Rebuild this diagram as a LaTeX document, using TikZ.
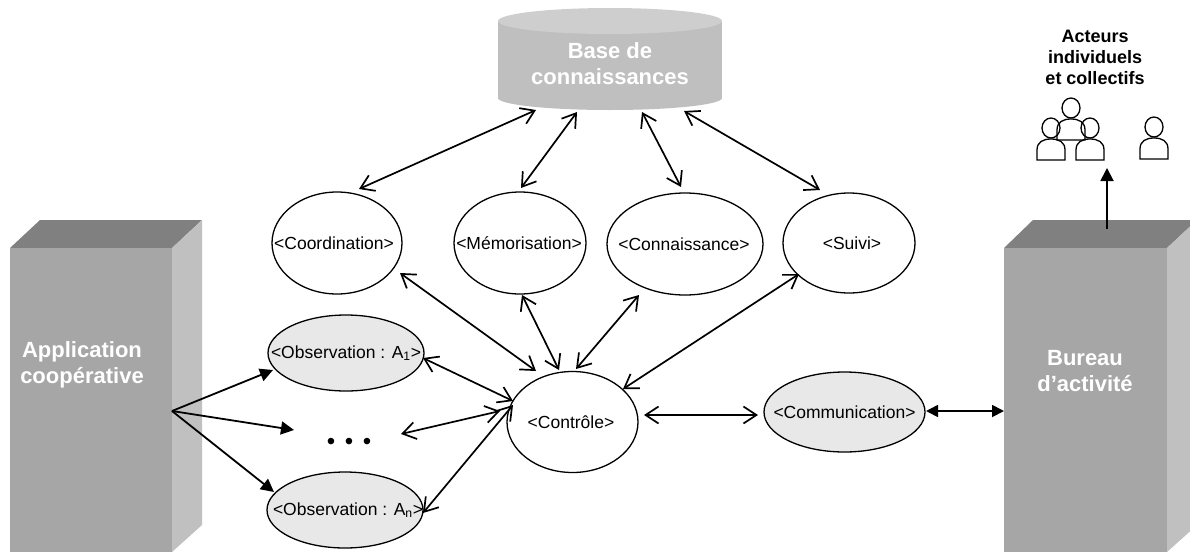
\documentclass[tikz,border=0pt]{standalone}
\usepackage{fontspec}
\setmainfont{Liberation Sans}
\usetikzlibrary{arrows.meta,calc,shapes.geometric}
\newcommand{\ztext}[2][0pt]{\makebox[0pt]{\hspace*{#1}#2}}
\tikzset{
  x=1pt,y=-1pt,
  uml/.style={draw=black,line width=1.3pt,ellipse,inner sep=0pt,fill=white,text=black,font=\fontsize{17.5}{21}\selectfont},
  obs/.style={uml,fill=ellgray},
  front/.style={fill=frontgray,inner sep=0pt,minimum width=#1,minimum height=304pt},
  title/.style={font=\bfseries\fontsize{22}{26}\selectfont,text=white,align=center,inner sep=0pt},
  small title/.style={font=\bfseries\fontsize{18}{21}\selectfont,text=black,align=center,inner sep=0pt},
  dbl/.style={line width=1.7pt,{Straight Barb[length=13pt,width=17pt,line width=1.7pt]}-{Straight Barb[length=13pt,width=17pt,line width=1.7pt]}},
  solid arrow/.style={line width=1.8pt,-{Triangle[length=13pt,width=13pt]}},
  dblsolid/.style={line width=1.8pt,{Triangle[length=12pt,width=12pt]}-{Triangle[length=12pt,width=12pt]}},
  person/.pic={
    \draw[line width=1.3pt] (0,0) ellipse[x radius=9,y radius=10];
    \draw[line width=1.3pt] (-14,32) -- (-14,22) .. controls (-14,14) and (-8,11) .. (0,11)
      .. controls (8,11) and (14,14) .. (14,22) -- (14,32) -- cycle;
  }
}
\definecolor{frontgray}{HTML}{A6A6A6}
\definecolor{topgray}{HTML}{808080}
\definecolor{sidegray}{HTML}{C0C0C0}
\definecolor{cylbody}{HTML}{BFBFBF}
\definecolor{cyltop}{HTML}{CECECE}
\definecolor{ellgray}{HTML}{E8E8E8}
\begin{document}
\begin{tikzpicture}
\useasboundingbox (0,0) rectangle (1190,552);
\clip (0,0) rectangle (1190,552);
% knowledge base cylinder
\fill[cylbody] (498,21) rectangle (722,98);
\fill[cylbody] (610,98) ellipse[x radius=112,y radius=12];
\fill[cyltop] (610,21) ellipse[x radius=112,y radius=13];
\node[title] (kb) at (610,64) {Base de\\connaissances};
% left block
\fill[topgray] (10,248) -- (40,220) -- (202,220) -- (172,248) -- cycle;
\fill[sidegray] (172,248) -- (202,220) -- (202,525) -- (172,552) -- cycle;
\node[front=162pt] (ap) at (91,400) {};
\node[title] (aplabel) at (82,365) {Application\\coopérative};
% right block
\fill[topgray] (1004,248) -- (1033,220) -- (1197,220) -- (1167,248) -- cycle;
\fill[sidegray] (1167,248) -- (1197,220) -- (1197,525) -- (1167,552) -- cycle;
\node[front=163pt] (bu) at (1085.5,400) {};
\node[title] (bulabel) at (1085,371) {Bureau\\d’activité};
% ellipses
\node[uml,minimum width=130pt,minimum height=102pt] (co) at (337,243) {\ztext[-6pt]{<Coordination>}};
\node[uml,minimum width=132pt,minimum height=102pt] (me) at (520,243) {\ztext[-2pt]{<Mémorisation>}};
\node[uml,minimum width=156pt,minimum height=102pt] (cn) at (685,244) {\ztext[-2pt]{<Connaissance>}};
\node[uml,minimum width=132pt,minimum height=100pt] (su) at (849,243) {\ztext[6pt]{<Suivi>}};
\node[uml,minimum width=131pt,minimum height=101pt] (ct) at (572.5,422) {\ztext[-3pt]{<Contrôle>}};
\node[obs,minimum width=161pt,minimum height=80pt] (cm) at (844.5,412) {\ztext{<Communication>}};
\node[obs,minimum width=156pt,minimum height=76pt] (a1) at (346,353) {\ztext{<Observation : A\textsubscript{1}>}};
\node[obs,minimum width=156pt,minimum height=76pt] (an) at (345,510) {\ztext[6pt]{<Observation : A\textsubscript{n}>}};
\node[inner sep=0pt,font=\fontsize{24}{28}\selectfont] (dots) at (349,441) {\raisebox{-8.6pt}[0pt][0pt]{•\hspace{9.6pt}•\hspace{9.6pt}•}};
% actors
\node[small title] (ac) at (1095,57) {Acteurs\\individuels\\et collectifs};
\pic at (1071,108) {person};
\pic at (1051,128) {person};
\pic at (1090,128) {person};
\pic at (1154,127) {person};
\coordinate (actarget) at (1107,168);
% knowledge base links
\draw[dbl] ($(kb)+(-74,46)$) -- ($(co)+(22,-54)$);
\draw[dbl] ($(kb)+(-33,48)$) -- ($(me)+(1,-55)$);
\draw[dbl] ($(kb)+(32,48)$) -- ($(cn)+(-4,-57)$);
\draw[dbl] ($(kb)+(74,47)$) -- ($(su)+(-29,-53)$);
% control links
\draw[dbl] ($(co)+(63,30)$) -- ($(ct)+(-36.5,-51)$);
\draw[dbl] ($(me)+(2,52)$) -- ($(ct)+(-13.5,-52)$);
\draw[dbl] ($(cn)+(-46,51)$) -- ($(ct)+(3.5,-53)$);
\draw[dbl] ($(su)+(-50,31)$) -- ($(ct)+(50.5,-33)$);
\draw[dbl] ($(a1)+(77,5)$) -- ($(ct)+(-59.5,-21)$);
\draw[dbl] ($(dots)+(52,-7)$) -- ($(ct)+(-72.5,-11)$);
\draw[dbl] ($(an)+(78,3)$) -- ($(ct)+(-59.5,-17)$);
\draw[dbl] ($(ct)+(71.5,-7)$) -- ($(cm)+(-86.5,3)$);
\draw[dblsolid] ($(cm)+(81.5,-1)$) -- ($(bu)+(-81.5,11)$);
\draw[solid arrow] ($(bu)+(21.5,-171)$) -- (actarget);
% application links
\draw[solid arrow] ($(ap)+(81,11)$) -- ($(a1)+(-73,17)$);
\draw[solid arrow] ($(ap)+(81,11)$) -- ($(dots)+(-55,-11)$);
\draw[solid arrow] ($(ap)+(81,11)$) -- ($(an)+(-71,-18)$);
\end{tikzpicture}
\end{document}
